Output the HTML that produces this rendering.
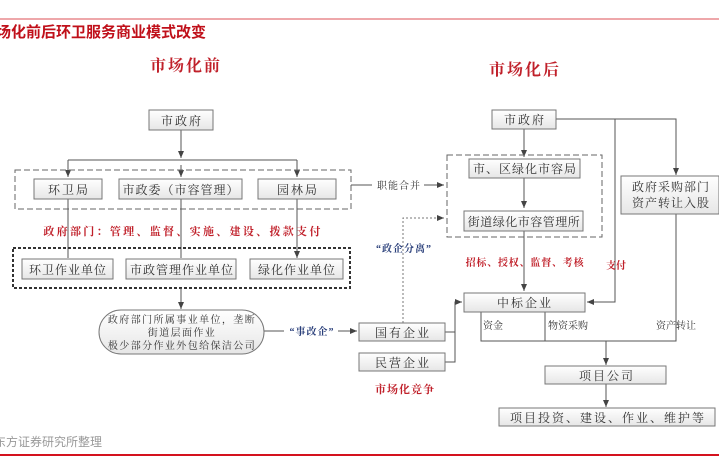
<!DOCTYPE html>
<html><head><meta charset="utf-8"><style>
body{margin:0;width:719px;height:457px;overflow:hidden;background:#fff}
svg{display:block}
text{font-family:"Liberation Serif","Noto Serif CJK SC",serif;font-size:12px;fill:#333}
.r{fill:#c0202a;font-weight:bold}
.b{fill:#2a3f7a;font-weight:bold;font-size:10px}
.s{font-size:10px}
</style></head><body>
<svg width="719" height="457" viewBox="0 0 719 457">
<defs>
<marker id="a" markerWidth="8" markerHeight="8" refX="7" refY="4" orient="auto" markerUnits="userSpaceOnUse"><path d="M0,1 L7,4 L0,7z" fill="#444"/></marker>
<linearGradient id="g" x1="0" y1="0" x2="0" y2="1"><stop offset="0" stop-color="#fff"/><stop offset="1" stop-color="#e6e6e6"/></linearGradient>
</defs>
<line x1="0" y1="19" x2="719" y2="19" stroke="#e88a8e" stroke-width="1.5"/>
<text x="-4" y="37" style="font-family:'Liberation Sans','Noto Sans CJK SC',sans-serif;font-size:15px;font-weight:bold;fill:#c0101a">场化前后环卫服务商业模式改变</text>
<line x1="0" y1="455" x2="719" y2="455" stroke="#d4121e" stroke-width="2"/>
<text x="-6" y="446" style="font-family:'Liberation Sans','Noto Sans CJK SC',sans-serif;font-size:12px;fill:#999">东方证券研究所整理</text>

<g stroke="#555" fill="none" stroke-width="1">
<path d="M181,130V158" marker-end="url(#a)"/>
<path d="M68,160H297M68,160V177M297,160V177" />
<path d="M68,170V177" marker-end="url(#a)"/><path d="M297,170V177" marker-end="url(#a)"/><path d="M181,165V177" marker-end="url(#a)"/>
<rect x="15" y="170" width="336" height="39" stroke="#666" stroke-dasharray="6,3"/>
<path d="M351,185H372M424,185H444" marker-end="url(#a)"/>
<path d="M68,199V258M181,199V258M297,199V258" marker-end="url(#a)"/>
<rect x="13" y="248" width="337" height="40" stroke="#333" stroke-width="2" stroke-dasharray="3,2"/>
<path d="M181,288V309" marker-end="url(#a)"/>
<path d="M264,331H284M338,331H357" marker-end="url(#a)"/>
<path d="M403,323V218H444" stroke-dasharray="2,2" stroke="#777" marker-end="url(#a)"/>
<path d="M445,332H455M445,362H455V302H462" marker-end="url(#a)"/>
<path d="M524,129V157" marker-end="url(#a)"/>
<rect x="447" y="155" width="155" height="82" stroke="#666" stroke-dasharray="6,3"/>
<path d="M524,178V208" marker-end="url(#a)"/>
<path d="M524,231V291" marker-end="url(#a)"/>
<path d="M556,119H676V175" marker-end="url(#a)"/>
<path d="M615,119V302H587" marker-end="url(#a)"/>
<path d="M481,312V341H676V214M545,312V341"/>
<path d="M606,341V365" marker-end="url(#a)"/>
<path d="M606,384V407" marker-end="url(#a)"/>
</g>

<g stroke="#777" fill="url(#g)">
<rect x="149" y="110" width="64" height="20"/>
<rect x="34" y="179" width="68" height="20"/>
<rect x="119" y="179" width="123" height="20"/>
<rect x="258" y="179" width="78" height="20"/>
<rect x="22" y="259" width="91" height="20"/>
<rect x="126" y="259" width="110" height="20"/>
<rect x="250" y="259" width="93" height="20"/>
<rect x="99" y="310" width="165" height="44" rx="22"/>
<rect x="359" y="323" width="86" height="18"/>
<rect x="359" y="353" width="86" height="18"/>
<rect x="492" y="110" width="64" height="19"/>
<rect x="469" y="159" width="111" height="19"/>
<rect x="464" y="211" width="119" height="20"/>
<rect x="621" y="176" width="98" height="38"/>
<rect x="464" y="293" width="121" height="19"/>
<rect x="545" y="366" width="121" height="18"/>
<rect x="499" y="408" width="216" height="18"/>
</g>

<g text-anchor="middle">
<text x="186" y="71" class="r" style="font-size:16px;letter-spacing:2px">市场化前</text>
<text x="525" y="75" class="r" style="font-size:16px;letter-spacing:2px">市场化后</text>
<text x="182" y="125" style="letter-spacing:2px">市政府</text>
<text x="69" y="194" style="letter-spacing:2px">环卫局</text>
<text x="181" y="194" style="letter-spacing:1px">市政委（市容管理）</text>
<text x="298" y="194" style="letter-spacing:2px">园林局</text>
<text x="399" y="189" class="s" style="letter-spacing:1px">职能合并</text>
<text x="183" y="235" class="r" style="font-size:11px;letter-spacing:2.3px">政府部门：管理、监督、实施、建设、拨款支付</text>
<text x="68" y="274" style="letter-spacing:1px">环卫作业单位</text>
<text x="182" y="274" style="letter-spacing:1px">市政管理作业单位</text>
<text x="297" y="274" style="letter-spacing:1px">绿化作业单位</text>
<text x="182" y="323" class="s" style="letter-spacing:1.4px">政府部门所属事业单位，垄断</text>
<text x="182" y="336" class="s" style="letter-spacing:1.4px">街道层面作业</text>
<text x="182" y="349" class="s" style="letter-spacing:1.4px">极少部分作业外包给保洁公司</text>
<text x="312" y="335" class="b" style="letter-spacing:1px">“事改企”</text>
<text x="404" y="252" class="b" style="letter-spacing:1px">“政企分离”</text>
<text x="403" y="337" style="letter-spacing:2px">国有企业</text>
<text x="403" y="367" style="letter-spacing:2px">民营企业</text>
<text x="405" y="393" class="r" style="font-size:11px;letter-spacing:1px">市场化竞争</text>
<text x="525" y="124" style="letter-spacing:2px">市政府</text>
<text x="525" y="173" style="letter-spacing:1px">市、区绿化市容局</text>
<text x="524" y="226" style="letter-spacing:0.5px">街道绿化市容管理所</text>
<text x="525" y="266" class="r" style="font-size:10px;letter-spacing:0.8px">招标、授权、监督、考核</text>
<text x="616" y="269" class="r" style="font-size:10px">支付</text>
<text x="671" y="191" style="letter-spacing:1px">政府采购部门</text>
<text x="671" y="207" style="letter-spacing:1px">资产转让入股</text>
<text x="525" y="307" style="letter-spacing:2px">中标企业</text>
<text x="493" y="329" class="s">资金</text>
<text x="568" y="329" class="s">物资采购</text>
<text x="676" y="329" class="s">资产转让</text>
<text x="607" y="380" style="letter-spacing:2px">项目公司</text>
<text x="608" y="422" style="letter-spacing:2px">项目投资、建设、作业、维护等</text>
</g>
</svg>
</body></html>
